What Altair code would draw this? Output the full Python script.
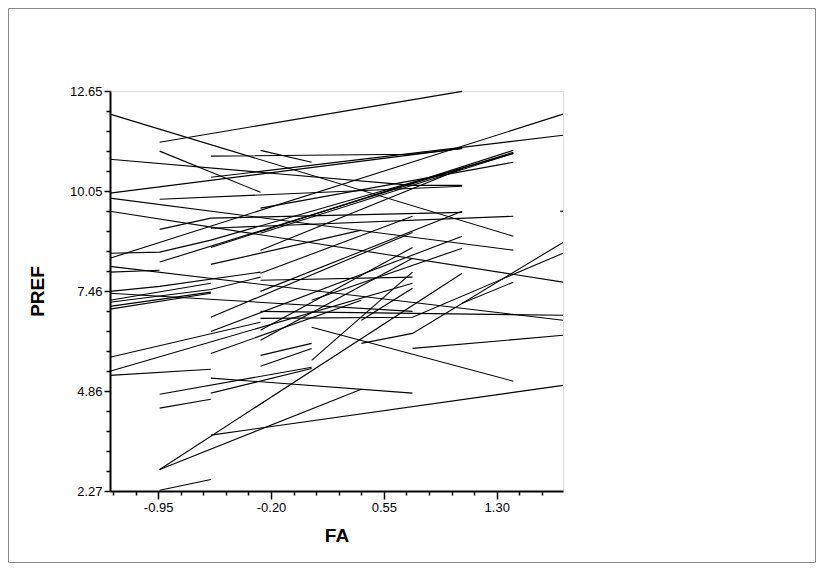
import altair as alt
import pandas as pd

# FA measurement levels used by the subjects
FA_LEVELS = [-1.27, -0.94, -0.60, -0.27, 0.07, 0.40, 0.74, 1.07, 1.41, 1.74]

SUBJECT = [1, 1, 2, 2, 3, 3, 4, 4, 5, 5, 5, 6, 6, 6, 7, 7, 8, 8, 9, 9,
           10, 10, 11, 11, 12, 12, 12, 13, 13, 14, 14, 14, 14, 15, 15, 16, 16, 17, 17, 18, 18,
           19, 19, 20, 20, 21, 21, 22, 22, 22, 23, 23, 24, 24, 24, 25, 25, 26, 26, 27, 27,
           28, 28, 29, 29, 30, 30, 31, 31, 32, 32, 33, 33, 34, 34, 35, 35, 36, 36, 37, 37,
           38, 38, 39, 39, 40, 40, 40, 41, 41, 42, 42, 43, 43, 44, 44, 44, 45, 45, 46, 46,
           47, 47, 48, 48, 49, 49, 50, 50, 51, 51, 52, 52, 53, 53, 54, 54, 55, 55, 56, 56,
           57, 57, 58, 58, 59, 59, 60, 60]

FA = [-0.94, 1.07, -1.27, 1.41, -0.27, 0.07, -0.94, -0.27, -0.60, 0.74, 1.07, -1.27, 0.74, 1.07,
      -1.27, 1.07, -0.60, 1.74, -0.94, 1.07,
      -1.27, 1.41, -1.27, 1.74, -0.94, -0.60, 1.07, -0.60, 1.41, -1.27, -0.94, -0.60, 1.41, -1.27, 1.74,
      -0.94, 1.41, -0.60, 1.41, -0.27, 1.41,
      -0.27, 1.41, -1.27, 1.74, -1.27, -0.94, -1.27, -0.94, -0.27, -1.27, -0.60, -1.27, -0.60, -0.27,
      -1.27, -0.60, -1.27, -0.60, -1.27, 0.74,
      -1.27, -0.27, -1.27, 0.74, -1.27, -0.60, -0.60, 1.74, -0.94, 1.07, -0.94, 0.40,
      -0.94, -0.60, -0.60, 0.74, -0.94, 0.07, -0.94, -0.60,
      -0.60, 0.07, 0.74, 1.74, 0.40, 0.74, 1.74, 0.07, 1.41, -0.27, 0.07, -0.27, 0.07,
      -0.27, 0.74, 1.74, -0.27, 1.74, 1.07, 1.41,
      1.72, 1.74, -0.27, 0.74, -0.27, 1.07, -0.27, 0.74, -0.27, 0.74, -0.60, 0.74, -0.60, 1.07,
      -0.27, 1.07, -0.60, 0.40, 0.07, 1.07,
      -0.60, 0.40, 0.07, 0.74, -0.27, 0.74, 0.40, 0.74]

PREF = [11.32, 12.64, 12.05, 8.88, 11.11, 10.80, 11.09, 10.02, 10.96, 11.01, 11.16, 10.88, 10.20, 10.20,
        10.00, 11.16, 10.41, 11.50, 9.84, 10.18,
        9.87, 8.52, 9.53, 7.69, 9.06, 9.35, 9.50, 9.09, 9.40, 8.44, 8.47, 8.78, 11.03, 8.31, 12.05,
        8.21, 11.06, 8.59, 11.11, 8.96, 11.03,
        9.61, 10.80, 8.10, 6.70, 7.95, 8.00, 7.45, 7.58, 7.95, 7.22, 7.66, 7.17, 7.50, 7.82,
        7.06, 7.43, 6.99, 7.40, 7.40, 6.93,
        5.74, 6.65, 5.38, 7.66, 5.27, 5.43, 3.72, 5.01, 2.83, 7.92, 2.83, 4.91,
        2.29, 2.57, 5.20, 4.81, 4.78, 5.48, 4.42, 4.65,
        4.81, 5.45, 5.97, 6.31, 6.10, 6.36, 8.72, 6.52, 5.12, 5.79, 6.10, 5.51, 5.97,
        6.75, 6.78, 8.44, 6.93, 6.83, 7.14, 7.69,
        9.53, 9.53, 7.92, 9.40, 7.45, 9.53, 6.44, 8.59, 6.18, 8.31, 6.78, 8.98, 6.41, 8.88,
        8.52, 10.64, 5.84, 7.22, 7.22, 8.57,
        8.15, 9.04, 5.66, 7.95, 7.74, 7.82, 6.70, 7.53]

X_MAJOR_LABELS = ["-0.95", "-0.20", "0.55", "1.30"]
Y_MAJOR_LABELS = ["2.27", "4.86", "7.46", "10.05", "12.65"]

df = pd.DataFrame({"subject": SUBJECT, "FA": FA, "PREF": PREF})

x_ticks = [round(-1.25 + 0.15 * i, 2) for i in range(20)]
y_ticks = [round(2.27 + 0.519 * i, 3) for i in range(21)]

x_major = "abs((datum.value + 0.95) / 0.75 - round((datum.value + 0.95) / 0.75)) < 0.01"
y_major = "abs((datum.value - 2.27) / 2.595 - round((datum.value - 2.27) / 2.595)) < 0.01"

x_label_expr = (f"({x_major}) ? {X_MAJOR_LABELS}[round((datum.value + 0.95) / 0.75)] : ''")
y_label_expr = (f"({y_major}) ? {Y_MAJOR_LABELS}[round((datum.value - 2.27) / 2.595)] : ''")

label_font = "Liberation Sans, Arial"

x_axis = alt.Axis(
    values=x_ticks, labelExpr=x_label_expr, grid=False,
    domainColor="black", domainWidth=2, tickColor="black", tickWidth=1.5,
    tickSize={"condition": {"test": x_major, "value": 8}, "value": 4},
    labelFont=label_font, labelFontSize=13, labelColor="black", labelPadding=2,
    labelFlush=False, labelOverlap=False,
    title="FA", titleFont="Liberation Sans", titleFontSize=19, titleFontWeight="bold",
    titleColor="black", titlePadding=12,
)
y_axis = alt.Axis(
    values=y_ticks, labelExpr=y_label_expr, grid=False,
    domainColor="black", domainWidth=2, tickColor="black", tickWidth=1.5,
    tickSize={"condition": {"test": y_major, "value": 6}, "value": 4},
    labelFont=label_font, labelFontSize=13, labelColor="black", labelPadding=2,
    labelFlush=False, labelOverlap=False,
    title="PREF", titleFont="Liberation Sans", titleFontSize=19, titleFontWeight="bold",
    titleColor="black", titlePadding=22,
)

lines = alt.Chart(df).mark_line(color="black", strokeWidth=1.1).encode(
    x=alt.X("FA:Q", scale=alt.Scale(domain=[-1.27, 1.74], nice=False, zero=False), axis=x_axis),
    y=alt.Y("PREF:Q", scale=alt.Scale(domain=[2.27, 12.65], nice=False, zero=False), axis=y_axis),
    detail="subject:N",
    order="FA:Q",
)

border = alt.Chart(pd.DataFrame({"a": [0]})).mark_rect(
    filled=False, stroke="#8a8a8a", strokeWidth=1
).encode(
    x=alt.value(-101.5), x2=alt.value(705.5), y=alt.value(-82.5), y2=alt.value(471.5)
)

chart = alt.layer(lines, border).properties(
    width=453, height=400,
    padding={"left": 102, "top": 83, "right": 253, "bottom": 72},
    autosize="none",
).configure_view(stroke=None).configure(background="white")

chart.save("out.html", embed_options={"renderer": "svg", "actions": False})
